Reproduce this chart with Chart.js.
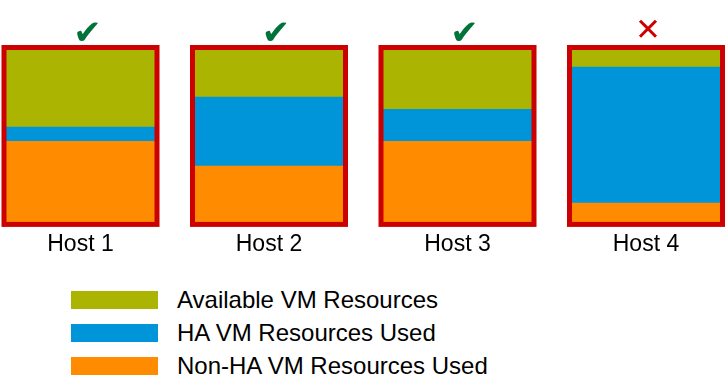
<!DOCTYPE html>
<html>
<head>
<meta charset="utf-8">
<script src="https://cdn.jsdelivr.net/npm/chart.js@4.4.0/dist/chart.umd.min.js"></script>
<style>
    body { margin: 0; background: #ffffff; font-family: "Liberation Sans", Arial, sans-serif; }
    #wrap { position: relative; width: 726px; height: 384px; }
    #chartBox { position: absolute; left: 0; top: 0; width: 726px; height: 272px; }
    #legend { position: absolute; left: 71px; top: 291px; }
    .legend-item { display: flex; align-items: center; height: 18px; margin-bottom: 15px; }
    .legend-swatch { width: 87px; height: 18px; }
    .legend-label { margin-left: 19px; font-size: 24px; color: #000000; line-height: 18px; white-space: nowrap; }
</style>
</head>
<body>
<div id="wrap">
    <div id="chartBox"><canvas id="hostChart"></canvas></div>
    <div id="legend"></div>
</div>
<script>
// Data
const hosts = ['Host 1', 'Host 2', 'Host 3', 'Host 4'];
const nonHaUsed = [47, 33, 47, 12];
const haUsed = [8, 39, 18, 77];
const available = [45, 28, 35, 11];
const hostStatus = ['✔', '✔', '✔', '✕'];

const colors = {
    available: '#abb400',
    ha: '#0094d8',
    nonHa: '#ff8c00',
    frame: '#cc0000',
    ok: '#00733a',
    bad: '#cc0000'
};

Chart.defaults.font.family = '"Liberation Sans", Arial, sans-serif';

// Red frame round each host + status mark above it
const framePlugin = {
    id: 'hostFrame',
    afterDatasetsDraw(chart) {
        const ctx = chart.ctx;
        const y = chart.scales.y;
        const meta = chart.getDatasetMeta(0);
        ctx.save();
        meta.data.forEach(function(bar, i) {
            const top = y.getPixelForValue(100);
            const bottom = y.getPixelForValue(0);
            const w = bar.width;
            ctx.strokeStyle = colors.frame;
            ctx.lineWidth = 5;
            ctx.lineJoin = 'miter';
            ctx.strokeRect(bar.x - w / 2, top, w, bottom - top);

            const ok = hostStatus[i] === '✔';
            ctx.fillStyle = ok ? colors.ok : colors.bad;
            ctx.textAlign = 'center';
            ctx.textBaseline = 'alphabetic';
            ctx.font = ok ? '34px "DejaVu Sans"' : '31px "DejaVu Sans"';
            ctx.fillText(hostStatus[i], bar.x + (ok ? 7 : 2), top - (ok ? 4 : 8));
        });
        ctx.restore();
    }
};

const datasets = [
    { label: 'Non-HA VM Resources Used', data: nonHaUsed, backgroundColor: colors.nonHa },
    { label: 'HA VM Resources Used', data: haUsed, backgroundColor: colors.ha },
    { label: 'Available VM Resources', data: available, backgroundColor: colors.available }
];

const hostChart = new Chart(document.getElementById('hostChart'), {
    type: 'bar',
    data: {
        labels: hosts,
        datasets: datasets.map(ds => Object.assign({
            borderWidth: 0,
            barThickness: 153,
            clip: false
        }, ds))
    },
    options: {
        responsive: true,
        maintainAspectRatio: false,
        animation: false,
        layout: {
            padding: { left: 80.5, right: 80, top: 47.5, bottom: 8 }
        },
        plugins: {
            legend: { display: false },
            tooltip: { enabled: false }
        },
        scales: {
            x: {
                stacked: true,
                offset: false,
                grid: { display: false, drawTicks: false },
                border: { display: false },
                ticks: {
                    color: '#000000',
                    padding: 6,
                    font: { size: 23 }
                }
            },
            y: {
                stacked: true,
                min: 0,
                max: 100,
                display: false
            }
        }
    },
    plugins: [framePlugin]
});

// HTML legend, top to bottom as in the stack
const legendBox = document.getElementById('legend');
datasets.slice().reverse().forEach(function(ds) {
    const item = document.createElement('div');
    item.className = 'legend-item';
    item.innerHTML = '<div class="legend-swatch" style="background:' + ds.backgroundColor + '"></div>' +
        '<span class="legend-label">' + ds.label + '</span>';
    legendBox.appendChild(item);
});
</script>
</body>
</html>
